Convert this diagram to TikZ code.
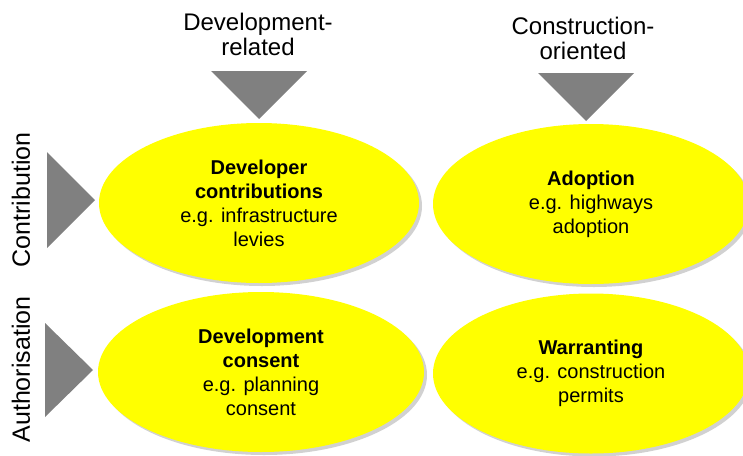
\documentclass[tikz,border=0pt]{standalone}
\usepackage{fontspec}
\setmainfont{Liberation Sans}
\usetikzlibrary{shapes.geometric, shadows}
\definecolor{bubblefill}{HTML}{FFFF00}
\definecolor{markerfill}{HTML}{808080}
\tikzset{
  bubble/.style={ellipse, fill=bubblefill, minimum width=320pt, minimum height=160pt,
    inner sep=0pt, align=center, font=\fontsize{20}{24}\selectfont,
    drop shadow={shadow xshift=3pt, shadow yshift=-3pt, opacity=0.18, fill=black}},
  head/.style={align=center, font=\fontsize{24}{25}\selectfont},
  side/.style={rotate=90, font=\fontsize{25}{26}\selectfont},
  marker/.style={fill=markerfill}
}

\begin{document}
\begin{tikzpicture}[x=1pt,y=-1pt]
\useasboundingbox (0,0) rectangle (743,455);
\node[head] (devrel) at (258,34) {Development-\\related};
\node[head] (conor) at (583,38.5) {Construction-\\oriented};
\node[side] (contrib) at (21,200) {Contribution};
\node[side] (auth) at (21,369.5) {Authorisation};
\fill[marker] (211,71) -- (307,71) -- (259,119) -- cycle;
\fill[marker] (538,73) -- (634,73) -- (586,121) -- cycle;
\fill[marker] (47,152) -- (47,248) -- (95,200) -- cycle;
\fill[marker] (45,323) -- (45,417) -- (93,370) -- cycle;
\node[bubble] (devcontrib) at (259,203) {\textbf{Developer}\\\textbf{contributions}\\e.g. infrastructure\\levies};
\node[bubble, minimum width=316pt] (adoption) at (591,204) {\textbf{Adoption}\\e.g. highways\\adoption};
\node[bubble, minimum width=326pt] (devconsent) at (261,372) {\textbf{Development}\\\textbf{consent}\\e.g. planning\\consent};
\node[bubble, minimum width=316pt] (warranting) at (591,373.5) {\textbf{Warranting}\\e.g. construction\\permits};
\end{tikzpicture}
\end{document}
